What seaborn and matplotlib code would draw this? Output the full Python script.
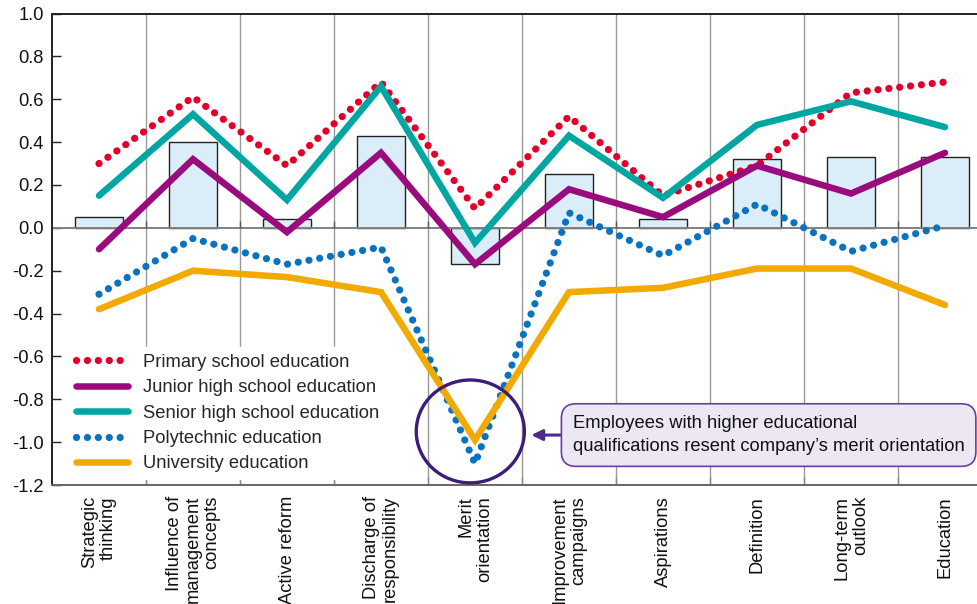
import numpy as np
import matplotlib
matplotlib.use("Agg")
import matplotlib.pyplot as plt
from matplotlib.patches import Ellipse
from matplotlib.ticker import FixedLocator
import seaborn as sns

# Categories (x axis)
categories = [
    "Strategic\nthinking",
    "Influence of\nmanagement\nconcepts",
    "Active reform",
    "Discharge of\nresponsibility",
    "Merit\norientation",
    "Improvement\ncampaigns",
    "Aspirations",
    "Definition",
    "Long-term\noutlook",
    "Education",
]

# Bar series (overall difference)
bar_values = [0.05, 0.40, 0.04, 0.43, -0.17, 0.25, 0.04, 0.32, 0.33, 0.33]

# Line series by education level
primary = [0.30, 0.61, 0.29, 0.68, 0.09, 0.52, 0.15, 0.29, 0.63, 0.68]
junior_high = [-0.10, 0.32, -0.02, 0.35, -0.17, 0.18, 0.05, 0.29, 0.16, 0.35]
senior_high = [0.15, 0.53, 0.13, 0.66, -0.07, 0.43, 0.14, 0.48, 0.59, 0.47]
polytechnic = [-0.31, -0.05, -0.17, -0.09, -1.10, 0.07, -0.13, 0.11, -0.11, 0.01]
university = [-0.38, -0.20, -0.23, -0.30, -0.99, -0.30, -0.28, -0.19, -0.19, -0.36]

series_labels = [
    "Primary school education",
    "Junior high school education",
    "Senior high school education",
    "Polytechnic education",
    "University education",
]

y_ticks = [1.0, 0.8, 0.6, 0.4, 0.2, 0.0, -0.2, -0.4, -0.6, -0.8, -1.0, -1.2]

note_text = ("Employees with higher educational\n"
             "qualifications resent company\u2019s merit orientation")

FS = 13.2

sns.set_style("white")
plt.rcParams["font.family"] = ["Liberation Sans", "DejaVu Sans"]

fig = plt.figure(figsize=(9.78, 6.04), dpi=100)
ax = fig.add_axes([52 / 978, 1 - 485 / 604, 940 / 978, 471.5 / 604])

pos = np.arange(len(categories))

# Bars
sns.barplot(x=pos, y=bar_values, ax=ax, color="#DCEDFA", saturation=1,
            edgecolor="#222222", linewidth=1.0, width=0.51, errorbar=None,
            native_scale=True, zorder=2)

dotted = (0, (0.01, 1.5))
styles = [
    (primary, "#E2002A", dotted, 5.2),
    (junior_high, "#9A0B7E", "-", 4.7),
    (senior_high, "#00A6A2", "-", 4.7),
    (polytechnic, "#0A72BF", dotted, 5.2),
    (university, "#F2AA00", "-", 4.7),
]
for (vals, col, ls, lw), lab in zip(styles, series_labels):
    sns.lineplot(x=pos, y=vals, ax=ax, color=col, linestyle=ls, lw=lw,
                 dash_capstyle="round", solid_capstyle="round",
                 solid_joinstyle="miter", label=lab, zorder=3)

ax.set_xlim(-0.5, len(categories) - 0.5)
ax.set_ylim(-1.2, 1.0)

# Axes styling
ax.yaxis.set_major_locator(FixedLocator(y_ticks))
ax.set_yticklabels([f"{v:.1f}" for v in y_ticks])
ax.tick_params(axis="y", which="major", direction="in", length=6.5,
               width=1.0, color="#222222", labelsize=FS, pad=6,
               left=True, labelcolor="#111111")

ax.xaxis.set_major_locator(FixedLocator(pos))
ax.set_xticklabels(categories, rotation=90, ha="center", va="top",
                   multialignment="right", fontsize=FS, color="#111111",
                   linespacing=1.15)
boundaries = pos[:-1] + 0.5
ax.xaxis.set_minor_locator(FixedLocator(boundaries))
ax.tick_params(axis="x", which="major", length=0, pad=8)
ax.tick_params(axis="x", which="minor", direction="in", length=6,
               width=1.0, color="#888888", bottom=True)
ax.grid(which="minor", axis="x", color="#999999", lw=1.0, zorder=0)
ax.grid(which="major", axis="both", visible=False)
ax.set_xlabel("")
ax.set_ylabel("")

for side in ["left", "top"]:
    ax.spines[side].set_color("#222222")
    ax.spines[side].set_linewidth(1.4)
ax.spines["bottom"].set_color("#666666")
ax.spines["bottom"].set_linewidth(1.4)
ax.spines["right"].set_visible(False)

# Zero line with tick marks at the category boundaries
ax.axhline(0, color="#808080", lw=1.4, zorder=2.5)
ax.vlines(boundaries, 0, 0.03, color="#555555", lw=1.0, zorder=2.5)

# Legend
leg = ax.legend(loc="lower left", bbox_to_anchor=(0.019, 0.013),
                borderaxespad=0, frameon=True, fancybox=False,
                facecolor="white", edgecolor="white", framealpha=1,
                fontsize=FS, handlelength=2.8, handletextpad=0.85,
                labelspacing=0.46, borderpad=0.35)
leg.set_zorder(4)

# Highlight around merit orientation
ax.add_patch(Ellipse((3.95, -0.95), 1.15, 0.48, fill=False,
                     edgecolor="#3B1D7A", lw=2.4, zorder=5))

ax.annotate(note_text, xy=(4.6, -0.967), xytext=(5.04, -0.967),
            ha="left", va="center", fontsize=FS, color="#111111",
            linespacing=1.45,
            bbox=dict(boxstyle="round,pad=0.62,rounding_size=0.8",
                      fc="#EDE7F3", ec="#6A3DA3", lw=1.2),
            arrowprops=dict(arrowstyle="-|>", color="#4A2A8A", lw=2.2,
                            mutation_scale=16, shrinkA=0, shrinkB=0),
            zorder=6)

fig.savefig("out.png", dpi=100)
